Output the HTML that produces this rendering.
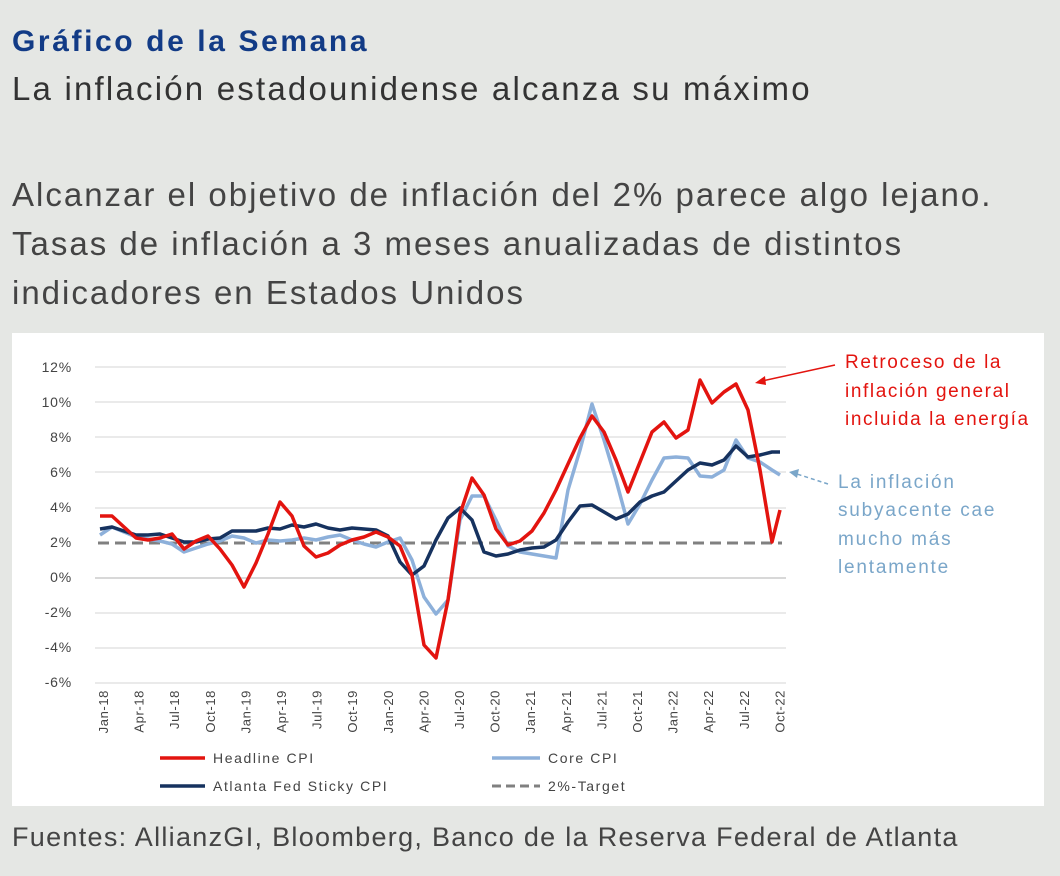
<!DOCTYPE html>
<html><head><meta charset="utf-8"><style>
body{margin:0;width:1060px;height:876px;background:#e5e7e4;font-family:"Liberation Sans",sans-serif;position:relative;overflow:hidden}
.t{position:absolute;white-space:nowrap}
</style></head><body>
<div class="t" style="left:12px;top:25px;font-size:30px;color:#123b86;font-weight:bold;letter-spacing:2.6px">Gráfico de la Semana</div>
<div class="t" style="left:12px;top:70px;font-size:33px;color:#333;letter-spacing:2.2px">La inflación estadounidense alcanza su máximo</div>
<div class="t" style="left:12px;top:170px;font-size:33px;color:#444;line-height:49px;letter-spacing:2px">Alcanzar el objetivo de inflación del 2% parece algo lejano.<br>Tasas de inflación a 3 meses anualizadas de distintos<br>indicadores en Estados Unidos</div>
<div class="t" style="left:12px;top:822px;font-size:27px;color:#444;letter-spacing:1.3px">Fuentes: AllianzGI, Bloomberg, Banco de la Reserva Federal de Atlanta</div>
<svg style="position:absolute;left:12px;top:333px" width="1032" height="473" viewBox="12 333 1032 473">
<rect x="12" y="333" width="1032" height="473" fill="#fff"/>
<g stroke="#e3e3e3" stroke-width="1.5">
<line x1="95" x2="786" y1="367" y2="367"/><line x1="95" x2="786" y1="402" y2="402"/><line x1="95" x2="786" y1="437" y2="437"/><line x1="95" x2="786" y1="472" y2="472"/><line x1="95" x2="786" y1="508" y2="508"/><line x1="95" x2="786" y1="613" y2="613"/><line x1="95" x2="786" y1="648" y2="648"/><line x1="95" x2="786" y1="683" y2="683"/>
<line x1="95" x2="786" y1="578" y2="578" stroke="#ccc"/>
</g>
<g font-size="14" fill="#444" text-anchor="end" letter-spacing="0.8">
<text x="72" y="372">12%</text><text x="72" y="407">10%</text><text x="72" y="442">8%</text><text x="72" y="477">6%</text><text x="72" y="512">4%</text><text x="72" y="547">2%</text><text x="72" y="582">0%</text><text x="72" y="617">-2%</text><text x="72" y="652">-4%</text><text x="72" y="687">-6%</text>
</g>
<g font-size="13" fill="#444" text-anchor="end" letter-spacing="0.6">
<text transform="translate(108,690) rotate(-90)">Jan-18</text><text transform="translate(143.6,690) rotate(-90)">Apr-18</text><text transform="translate(179.2,690) rotate(-90)">Jul-18</text><text transform="translate(214.8,690) rotate(-90)">Oct-18</text><text transform="translate(250.4,690) rotate(-90)">Jan-19</text><text transform="translate(286,690) rotate(-90)">Apr-19</text><text transform="translate(321.6,690) rotate(-90)">Jul-19</text><text transform="translate(357.2,690) rotate(-90)">Oct-19</text><text transform="translate(392.8,690) rotate(-90)">Jan-20</text><text transform="translate(428.4,690) rotate(-90)">Apr-20</text><text transform="translate(464,690) rotate(-90)">Jul-20</text><text transform="translate(499.6,690) rotate(-90)">Oct-20</text><text transform="translate(535.2,690) rotate(-90)">Jan-21</text><text transform="translate(570.8,690) rotate(-90)">Apr-21</text><text transform="translate(606.4,690) rotate(-90)">Jul-21</text><text transform="translate(642,690) rotate(-90)">Oct-21</text><text transform="translate(677.6,690) rotate(-90)">Jan-22</text><text transform="translate(713.2,690) rotate(-90)">Apr-22</text><text transform="translate(748.8,690) rotate(-90)">Jul-22</text><text transform="translate(784.4,690) rotate(-90)">Oct-22</text>
</g>
<line x1="98" x2="782" y1="543" y2="543" stroke="#808080" stroke-width="3" stroke-dasharray="11,6"/>
<polyline fill="none" stroke="#8db0da" stroke-width="3.5" stroke-linejoin="round" points="100,535 112,527 124,532 136,537 148,539 160,541 172,544 184,552 196,548 208,544 220,541 232,536 244,538 256,543 268,540 280,541 292,540 304,538 316,540 328,537 340,535 352,540 364,544 376,547 388,542 400,538 412,560 424,597 436,614 448,600 460,520 472,496 484,496 496,520 508,546 520,552 532,554 544,556 556,558 568,490 580,450 592,404 604,440 616,480 628,524 640,504 652,480 664,458 676,457 688,458 700,476 712,477 724,470 736,440 748,458 760,462 772,470 780,475"/>
<polyline fill="none" stroke="#16325f" stroke-width="3.5" stroke-linejoin="round" points="100,529 112,527 124,531 136,535 148,535 160,534 172,538 184,542 196,542 208,539 220,538 232,531 244,531 256,531 268,528 280,529 292,525 304,527 316,524 328,528 340,530 352,528 364,529 376,530 388,536 400,562 412,575 424,566 436,540 448,518 460,508 472,520 484,552 496,556 508,554 520,550 532,548 544,547 556,540 568,522 580,506 592,505 604,512 616,519 628,514 640,502 652,496 664,492 676,481 688,470 700,463 712,465 724,460 736,446 748,457 760,455 772,452 780,452"/>
<polyline fill="none" stroke="#e3140f" stroke-width="3.5" stroke-linejoin="round" points="100,516 112,516 124,527 136,538 148,540 160,538 172,534 184,549 196,541 208,536 220,549 232,565 244,587 256,563 268,534 280,502 292,516 304,546 316,557 328,553 340,545 352,540 364,537 376,532 388,537 400,546 412,575 424,645 436,658 448,600 460,514 472,478 484,495 496,529 508,545 520,541 532,531 544,513 556,490 568,464 580,438 592,416 604,432 616,460 628,492 640,462 652,432 664,422 676,438 688,430 700,380 712,403 724,392 736,384 748,410 760,470 772,542 780,510"/>
<g font-size="14" fill="#444" letter-spacing="1.6">
<line x1="160" x2="205" y1="758" y2="758" stroke="#e3140f" stroke-width="3.5"/><text x="213" y="763">Headline CPI</text>
<line x1="492" x2="540" y1="758" y2="758" stroke="#8db0da" stroke-width="3.5"/><text x="548" y="763">Core CPI</text>
<line x1="160" x2="205" y1="786" y2="786" stroke="#16325f" stroke-width="3.5"/><text x="213" y="791">Atlanta Fed Sticky CPI</text>
<line x1="492" x2="540" y1="786" y2="786" stroke="#808080" stroke-width="3" stroke-dasharray="9,5"/><text x="548" y="791">2%-Target</text>
</g>
<g font-size="19" fill="#e3140f" letter-spacing="1.6"><text x="845" y="368">Retroceso de la</text><text x="845" y="397">inflación general</text><text x="845" y="425">incluida la energía</text></g>
<line x1="835" y1="365" x2="762" y2="381" stroke="#e3140f" stroke-width="1.5"/><polygon points="755,383 765,376 766,385" fill="#e3140f"/>
<g font-size="19" fill="#7aa6c9" letter-spacing="1.8"><text x="838" y="488">La inflación</text><text x="838" y="516">subyacente cae</text><text x="838" y="545">mucho más</text><text x="838" y="573">lentamente</text></g>
<line x1="828" y1="484" x2="797" y2="474" stroke="#7aa6c9" stroke-width="1.5" stroke-dasharray="4,3"/><polygon points="789,472 799,469 797,478" fill="#7aa6c9"/>
</svg>
</body></html>
